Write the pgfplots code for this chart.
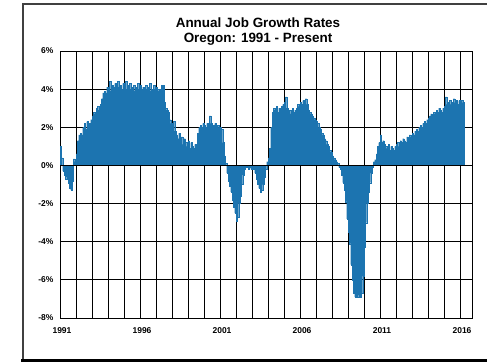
\documentclass[border=0pt]{standalone}
\usepackage{pgfplots}
\pgfplotsset{compat=1.18}
\usepackage{fontspec}
\setmainfont{Liberation Sans}
\definecolor{barblue}{RGB}{28,116,176}
\begin{document}
\begin{tikzpicture}[x=1bp,y=1bp]
\path[use as bounding box] (0,0) rectangle (487,362);
% outer frame
\draw[line width=2bp, black!75] (23,2) -- (23,358) -- (495,358);
\draw[line width=3bp, black] (21,1.5) -- (495,1.5);
\node[font=\bfseries\fontsize{13.5}{15}\selectfont, align=center, inner sep=0pt] at (258,330.5) {Annual Job Growth Rates\\Oregon: 1991 - Present};
\begin{axis}[
  at={(60bp,44bp)}, anchor=south west,
  scale only axis, width=412bp, height=267bp,
  xmin=0, xmax=309, ymin=-8, ymax=6,
  enlargelimits=false,
  ybar, bar width=1, bar shift=0.5,
  xtick={0,12,...,300},
  xticklabels={1991,,,,,1996,,,,,2001,,,,,2006,,,,,2011,,,,,2016},
  ytick={-8,-6,...,6},
  yticklabel={\pgfmathprintnumber{\tick}\%},
  /pgf/number format/assume math mode=true,
  tick label style={font=\bfseries\fontsize{8.5}{10}\selectfont},
  major tick length=0pt,
  grid=major,
  major grid style={black, line width=0.8bp},
  axis line style={black, line width=0.8bp},
  xticklabel style={yshift=-6bp, xshift=2bp},
  yticklabel style={xshift=-3bp},
]
\addplot[fill=barblue, draw=barblue, line width=0.2bp] table[x expr=\coordindex, y=v, row sep=\\] {
v\\
1.0\\ 0.4\\ -0.3\\ -0.5\\ -0.7\\ -0.6\\ -0.9\\ -1.2\\ -1.3\\ -0.8\\ 0.35\\ 0.2\\
0.6\\ 1.3\\ 1.6\\ 1.7\\ 1.6\\ 2.0\\ 2.2\\ 1.9\\ 2.3\\ 2.1\\ 2.2\\ 2.4\\
2.6\\ 2.8\\ 2.7\\ 3.0\\ 3.1\\ 2.9\\ 3.2\\ 3.5\\ 3.8\\ 3.9\\ 3.8\\ 4.1\\
4.0\\ 4.4\\ 3.9\\ 4.2\\ 4.1\\ 4.3\\ 4.0\\ 4.4\\ 4.1\\ 4.2\\ 4.0\\ 4.3\\
4.1\\ 4.4\\ 4.0\\ 4.2\\ 4.3\\ 4.0\\ 4.1\\ 4.2\\ 3.9\\ 4.1\\ 4.3\\ 4.0\\
4.2\\ 4.0\\ 4.1\\ 3.9\\ 4.2\\ 4.0\\ 4.1\\ 4.3\\ 3.9\\ 4.0\\ 4.2\\ 4.0\\
4.1\\ 4.0\\ 3.9\\ 4.0\\ 4.2\\ 4.2\\ 3.3\\ 3.0\\ 2.9\\ 2.8\\ 2.4\\ 2.2\\
2.1\\ 2.3\\ 1.8\\ 1.6\\ 1.4\\ 1.7\\ 1.3\\ 1.5\\ 1.1\\ 1.4\\ 1.2\\ 1.0\\
1.3\\ 0.9\\ 1.2\\ 1.0\\ 0.9\\ 1.1\\ 0.9\\ 1.7\\ 2.0\\ 2.1\\ 2.0\\ 2.2\\
2.1\\ 2.0\\ 2.2\\ 2.1\\ 2.6\\ 2.2\\ 2.0\\ 2.1\\ 2.2\\ 2.0\\ 2.1\\ 2.0\\
2.0\\ 1.9\\ 1.2\\ 0.5\\ 0.1\\ -0.4\\ -0.8\\ -1.1\\ -1.4\\ -1.8\\ -2.2\\ -2.5\\
-2.9\\ -2.7\\ -2.0\\ -1.6\\ -1.0\\ -0.5\\ -0.2\\ -0.1\\ -0.1\\ -0.2\\ -0.1\\ -0.2\\
-0.1\\ -0.2\\ -0.4\\ -0.7\\ -1.0\\ -1.2\\ -1.4\\ -1.3\\ -1.0\\ -0.6\\ -0.2\\ 0.2\\
0.4\\ 0.9\\ 2.0\\ 2.8\\ 3.0\\ 2.9\\ 3.1\\ 2.8\\ 3.0\\ 2.9\\ 3.1\\ 3.2\\
3.3\\ 3.6\\ 3.0\\ 2.8\\ 2.9\\ 2.7\\ 3.0\\ 2.8\\ 2.9\\ 3.0\\ 3.2\\ 3.1\\
3.3\\ 3.2\\ 3.4\\ 3.3\\ 3.5\\ 3.2\\ 2.9\\ 2.8\\ 2.7\\ 2.6\\ 2.5\\ 2.4\\
2.3\\ 2.2\\ 2.0\\ 1.9\\ 1.7\\ 1.6\\ 1.4\\ 1.3\\ 1.1\\ 1.0\\ 0.8\\ 0.7\\
0.5\\ 0.4\\ 0.3\\ 0.2\\ 0.1\\ -0.1\\ -0.2\\ -0.5\\ -0.9\\ -1.3\\ -1.9\\ -2.8\\
-3.5\\ -4.1\\ -5.2\\ -6.0\\ -6.7\\ -6.9\\ -6.8\\ -6.9\\ -6.8\\ -6.9\\ -6.7\\ -5.8\\
-4.3\\ -3.0\\ -2.0\\ -1.4\\ -0.9\\ -0.4\\ -0.1\\ 0.2\\ 0.3\\ 0.6\\ 1.0\\ 1.2\\
1.6\\ 1.2\\ 1.3\\ 1.1\\ 1.0\\ 0.9\\ 1.1\\ 0.8\\ 1.0\\ 0.9\\ 0.8\\ 1.0\\
1.1\\ 1.2\\ 1.0\\ 1.3\\ 1.2\\ 1.4\\ 1.3\\ 1.2\\ 1.5\\ 1.4\\ 1.6\\ 1.5\\
1.7\\ 1.6\\ 1.8\\ 1.9\\ 1.8\\ 2.0\\ 2.1\\ 2.0\\ 2.2\\ 2.3\\ 2.2\\ 2.4\\
2.5\\ 2.6\\ 2.7\\ 2.6\\ 2.8\\ 2.7\\ 2.9\\ 2.8\\ 3.0\\ 2.9\\ 2.8\\ 3.0\\
3.1\\ 3.6\\ 3.2\\ 3.3\\ 3.4\\ 3.2\\ 3.3\\ 3.5\\ 3.3\\ 3.4\\ 3.2\\ 3.4\\
3.3\\ 3.4\\ 3.3\\
};
\addplot[sharp plot, black, line width=1bp] coordinates {(0,0) (309,0)};
\end{axis}
\end{tikzpicture}
\end{document}
